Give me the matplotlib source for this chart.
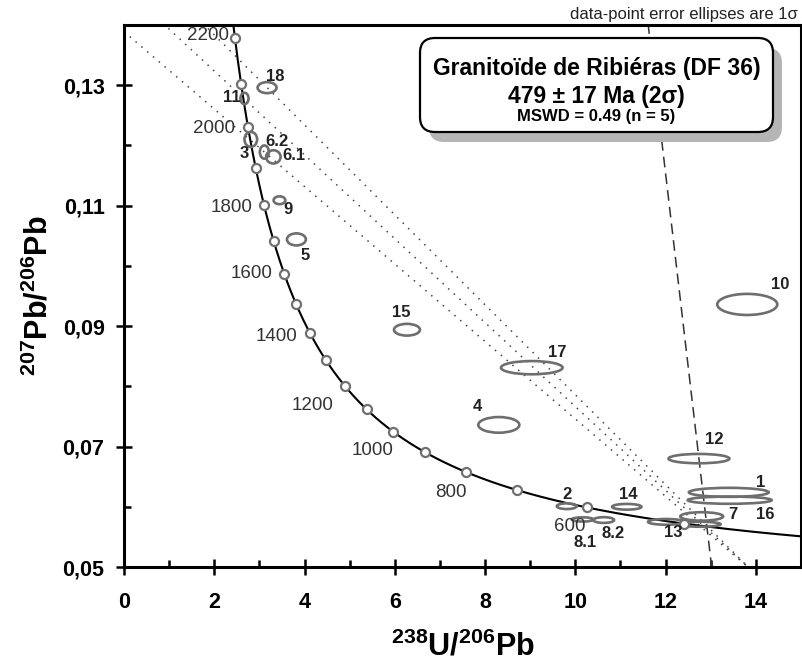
import numpy as np
import matplotlib
matplotlib.use("Agg")
import matplotlib.pyplot as plt
from matplotlib.patches import Ellipse, FancyBboxPatch
from matplotlib.ticker import FuncFormatter, MultipleLocator, FixedLocator

SANS = ["Liberation Sans", "DejaVu Sans"]
plt.rcParams["font.family"] = SANS
plt.rcParams["mathtext.fontset"] = "custom"
plt.rcParams["mathtext.rm"] = "Liberation Sans:bold"
plt.rcParams["mathtext.bf"] = "Liberation Sans:bold"

# decay constants (1/yr) and U ratio for the Tera-Wasserburg concordia
L238, L235, U_RATIO = 1.55125e-10, 9.8485e-10, 137.88
marker_ages = list(range(500, 2300, 100))          # Ma
age_labels = [2200, 2000, 1800, 1600, 1400, 1200, 1000, 800, 600]
age_label_x = [2.32, 2.47, 2.85, 3.29, 3.85, 4.64, 5.97, 7.60, 10.22]
age_label_y = [0.1382, 0.1228, 0.1097, 0.0987, 0.0883, 0.0768, 0.0693, 0.0623, 0.0567]

# error ellipses: name, centre x, centre y, full width, full height
spot_names = ["18", "11", "3", "6.2", "6.1", "9", "5", "15", "17", "10", "4",
              "12", "1", "16", "7", "7b", "13", "2", "8.1", "8.2", "14"]
spot_x = [3.17, 2.67, 2.81, 3.11, 3.31, 3.445, 3.82, 6.27, 9.035, 13.81, 8.305,
          12.74, 13.40, 13.42, 12.80, 12.77, 12.01, 9.81, 10.16, 10.63, 11.14]
spot_y = [0.1296, 0.1278, 0.1210, 0.1189, 0.1181, 0.1109, 0.1044, 0.0894, 0.0831,
          0.0936, 0.0736, 0.0680, 0.0624, 0.0611, 0.0584, 0.0571, 0.0575, 0.0601,
          0.0579, 0.0578, 0.0600]
spot_w = [0.42, 0.18, 0.28, 0.20, 0.32, 0.26, 0.42, 0.575, 1.365, 1.33, 0.91,
          1.35, 1.77, 1.86, 0.95, 0.90, 0.80, 0.44, 0.48, 0.46, 0.65]
spot_h = [0.00183, 0.0019, 0.0025, 0.0022, 0.0022, 0.0013, 0.0020, 0.00195, 0.0022,
          0.0035, 0.0026, 0.00155, 0.0015, 0.0012, 0.0014, 0.00083, 0.00095,
          0.00095, 0.0007, 0.00095, 0.00095]

# spot labels (text, x, y)
label_text = ["18", "11", "6.2", "3", "6.1", "9", "5", "15", "17", "10", "4",
              "12", "1", "16", "7", "13", "2", "14", "8.1", "8.2"]
label_x = [3.36, 2.40, 3.38, 2.675, 3.755, 3.64, 4.02, 6.14, 9.60, 14.53, 7.84,
           13.07, 14.10, 14.21, 13.49, 12.18, 9.81, 11.17, 10.22, 10.83]
label_y = [0.1315, 0.1280, 0.1207, 0.1187, 0.1183, 0.1093, 0.1018, 0.0923, 0.0857,
           0.0969, 0.0766, 0.0712, 0.0641, 0.0587, 0.0588, 0.0557, 0.0621, 0.0621,
           0.0540, 0.0556]

# regression lines
discordia_x = [11.61, 13.02]
discordia_y = [0.1403, 0.0500]
dotted_x = [[0.86, 13.87], [1.74, 13.87], [0.0, 13.87]]
dotted_y = [[0.1403, 0.0497], [0.1403, 0.0497], [0.1389, 0.0497]]

y_major = [0.05, 0.07, 0.09, 0.11, 0.13]
y_minor = [0.06, 0.08, 0.10, 0.12, 0.14]

fig = plt.figure(figsize=(8.03, 6.70), dpi=100)
ax = fig.add_axes([0.1544, 0.1537, 0.8431, 0.8090])

# concordia
t = np.linspace(380, 2400, 600) * 1e6
cx = 1 / (np.exp(L238 * t) - 1)
cy = (np.exp(L235 * t) - 1) / (np.exp(L238 * t) - 1) / U_RATIO
ax.plot(cx, cy, color="black", lw=1.5, zorder=3)
tm = np.array(marker_ages) * 1e6
mx = 1 / (np.exp(L238 * tm) - 1)
my = (np.exp(L235 * tm) - 1) / (np.exp(L238 * tm) - 1) / U_RATIO
ax.plot(mx, my, "o", ms=6.5, mfc="white", mec="#707070", mew=1.6, zorder=5)
for a, x, y in zip(age_labels, age_label_x, age_label_y):
    ax.text(x, y, str(a), ha="right", va="center", fontsize=13.5,
            color="#333333", zorder=6)

for xs, ys in zip(dotted_x, dotted_y):
    ax.plot(xs, ys, color="#444444", lw=1.1, ls=(0, (1, 4)), zorder=2)
ax.plot(discordia_x, discordia_y, color="#333333", lw=1.1, ls=(0, (7, 4)), zorder=2)

for x, y, w, h in zip(spot_x, spot_y, spot_w, spot_h):
    ax.add_patch(Ellipse((x, y), w, h, fill=False, ec="#6e6e6e", lw=1.9, zorder=4))
for s, x, y in zip(label_text, label_x, label_y):
    ax.text(x, y, s, ha="center", va="center", fontsize=12, fontweight="bold",
            color="#222222", zorder=6)

ax.set_xlim(0, 15)
ax.set_ylim(0.05, 0.14)
ax.xaxis.set_major_locator(MultipleLocator(2))
ax.xaxis.set_minor_locator(MultipleLocator(1))
ax.yaxis.set_major_locator(FixedLocator(y_major))
ax.yaxis.set_minor_locator(FixedLocator(y_minor))
ax.yaxis.set_major_formatter(FuncFormatter(lambda v, p: f"{v:.2f}".replace(".", ",")))
ax.tick_params(which="major", direction="inout", length=12, width=1.8, labelsize=15.5)
ax.tick_params(which="minor", direction="in", length=5, width=1.8)
ax.tick_params(axis="x", which="major", pad=12)
ax.tick_params(axis="y", which="major", pad=8)
for lab in ax.get_xticklabels() + ax.get_yticklabels():
    lab.set_fontweight("bold")
for sp in ax.spines.values():
    sp.set_linewidth(2.2)

ax.set_xlabel(r"$^{238}$U/$^{206}$Pb", fontsize=22, fontweight="bold", labelpad=13)
ax.set_ylabel(r"$^{207}$Pb/$^{206}$Pb", fontsize=22, fontweight="bold", labelpad=6)

# title box with shadow (figure inches)
inch = fig.dpi_scale_trans
ax.add_patch(FancyBboxPatch((4.29, 5.28), 3.53, 0.94, boxstyle="round,pad=0,rounding_size=0.15",
                            transform=inch, fc="#b5b5b5", ec="none", zorder=7, clip_on=False))
ax.add_patch(FancyBboxPatch((4.20, 5.38), 3.53, 0.94, boxstyle="round,pad=0,rounding_size=0.15",
                            transform=inch, fc="white", ec="black", lw=1.6, zorder=8, clip_on=False))
fig.text(5.965 / 8.03, 6.02 / 6.70, "Granitoïde de Ribiéras (DF 36)", ha="center", va="center",
         fontsize=16.5, fontweight="bold", zorder=9)
fig.text(5.965 / 8.03, 5.73 / 6.70, "479 ± 17 Ma (2σ)", ha="center", va="center",
         fontsize=16.5, fontweight="bold", zorder=9)
fig.text(5.965 / 8.03, 5.53 / 6.70, "MSWD = 0.49 (n = 5)", ha="center", va="center",
         fontsize=12, fontweight="bold", zorder=9)
fig.text(7.98 / 8.03, 6.55 / 6.70, "data-point error ellipses are 1σ", ha="right", va="center",
         fontsize=12, color="#222222")

fig.savefig("out.png", dpi=100)
